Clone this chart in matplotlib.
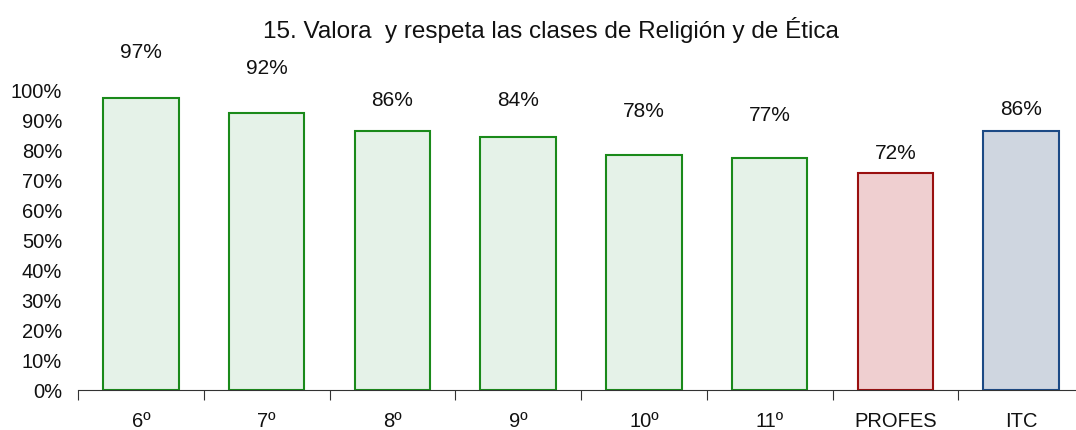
import matplotlib.pyplot as plt
import numpy as np

plt.rcParams['font.family'] = ['Liberation Sans', 'DejaVu Sans']

cats = ['6º', '7º', '8º', '9º', '10º', '11º', 'PROFES', 'ITC']
vals = [0.97, 0.92, 0.86, 0.84, 0.78, 0.77, 0.72, 0.86]
# label heights above the bars, as Excel placed them
lab_y = [1.125, 1.07, 0.965, 0.965, 0.93, 0.915, 0.79, 0.935]

face = ['#e5f2e8'] * 6 + ['#efcfd0', '#cfd6e0']
edge = ['#1a8a1a'] * 6 + ['#9a1010', '#1c4a85']

fig = plt.figure(figsize=(10.76, 4.31), dpi=100)
ax = fig.add_axes([78/1076, 40/431, 1006/1076, 301/431])

x = np.arange(len(cats))
ax.bar(x, vals, width=0.6, color=face, edgecolor=edge, linewidth=1.5)

for i, v in enumerate(vals):
    ax.text(i, lab_y[i], '%d%%' % round(v*100), ha='center', va='center',
            fontsize=15, color='#111111')

ax.set_xlim(-0.5, len(cats)-0.5)
ax.set_ylim(0, 1)
ax.set_yticks(np.arange(0, 1.01, 0.1))
ax.set_yticklabels(['%d%%' % p for p in range(0, 101, 10)], fontsize=14.5, color='#111111')
ax.tick_params(axis='y', length=0, pad=11.5)

ax.set_xticks(np.arange(-0.5, len(cats), 1))
ax.set_xticklabels([])
ax.set_xticks(x, minor=True)
ax.set_xticklabels(cats, minor=True, fontsize=14.5, color='#111111')
ax.tick_params(axis='x', which='major', length=7, direction='out', color='#333333')
ax.tick_params(axis='x', which='minor', length=0, pad=15)

for s in ['top', 'right', 'left']:
    ax.spines[s].set_visible(False)
ax.spines['bottom'].set_color('#333333')

fig.text(551/1076, 1 - 30/431, '15. Valora  y respeta las clases de Religión y de Ética',
         ha='center', va='center', fontsize=17.5, color='#111111')

plt.savefig('out.png', dpi=100)
